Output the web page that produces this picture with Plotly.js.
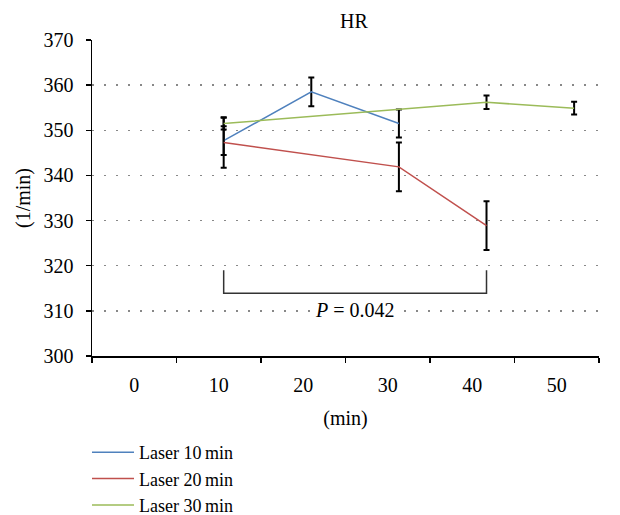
<!DOCTYPE html>
<html>
<head>
<meta charset="utf-8">
<script src="https://cdn.plot.ly/plotly-3.0.1.min.js"></script>
<style>html,body{margin:0;padding:0;background:#fff;}#chart{width:620px;height:515px;}</style>
</head>
<body>
<div id="chart"></div>
<script>
// Tick categories (min)
const xTickLabels = [0, 10, 20, 30, 40, 50];
const yTickValues = [300, 310, 320, 330, 340, 350, 360, 370];

// Series
const laser10X = [10, 20, 30];
const laser10Y = [347.7, 358.5, 351.5];
const laser10Err = [3.2, 3.2, 3.1];

const laser20X = [10, 30, 40];
const laser20Y = [347.3, 341.9, 328.9];
const laser20Err = [5.6, 5.4, 5.4];

const laser30X = [10, 40, 50];
const laser30Y = [351.5, 356.2, 354.9];
const laser30Err = [1.3, 1.5, 1.4];

// Significance bracket
const bracketX = [10, 10, 40, 40];
const bracketY = [319.0, 313.9, 313.9, 319.0];
const pText = "<i>P</i> = 0.042";
const pX = 25;
const pY = 310.2;

const FONT = "Liberation Serif, Times New Roman, serif";

function series(name, x, y, err, color) {
  return {
    type: "scatter", mode: "lines", name: name,
    x: x, y: y, xaxis: "x2", yaxis: "y",
    line: {color: color, width: 1.5},
    error_y: {type: "data", array: err, visible: true, color: "#000", thickness: 2, width: 3}
  };
}

const traces = [
  // empty trace so the labelled category axis gets drawn
  {type: "scatter", mode: "lines", x: [], y: [], xaxis: "x", yaxis: "y", showlegend: false, hoverinfo: "skip"},
  series("Laser 10\u2009min", laser10X, laser10Y, laser10Err, "#4f81bd"),
  series("Laser 20\u2009min", laser20X, laser20Y, laser20Err, "#c0504d"),
  series("Laser 30\u2009min", laser30X, laser30Y, laser30Err, "#9bbb59"),
  {
    type: "scatter", mode: "lines", x: bracketX, y: bracketY,
    xaxis: "x2", yaxis: "y", showlegend: false, hoverinfo: "skip",
    line: {color: "#333", width: 1.5}
  }
];

const layout = {
  width: 620, height: 515,
  margin: {l: 92, r: 21, t: 40, b: 159},
  paper_bgcolor: "#fff", plot_bgcolor: "#fff",
  font: {family: FONT, size: 20, color: "#000"},
  showlegend: true,
  title: {text: "HR", x: 354/620, xanchor: "center", xref: "container",
          y: 1 - 21/515, yanchor: "middle", yref: "container",
          font: {family: FONT, size: 20, color: "#000"}},
  xaxis: {
    type: "linear", range: [-5, 55],
    tickmode: "array", tickvals: xTickLabels, ticktext: xTickLabels.map(String),
    ticks: "", showgrid: false, zeroline: false,
    showline: true, linecolor: "#000", linewidth: 1.5,
    ticklabelstandoff: 10,
    minor: {tickmode: "linear", tick0: -5, dtick: 10, ticks: "outside", ticklen: 5, tickcolor: "#000", tickwidth: 1.5, showgrid: false},
    title: {text: "(min)", standoff: 16, font: {family: FONT, size: 20}},
    automargin: false,
    fixedrange: true
  },
  xaxis2: {
    type: "linear", range: [-5.03, 52.84], overlaying: "x", visible: false, fixedrange: true
  },
  yaxis: {
    range: [300, 370], tickmode: "array", tickvals: yTickValues,
    ticks: "outside", ticklen: 5, tickcolor: "#000", tickwidth: 1.5,
    showline: true, linecolor: "#000", linewidth: 1.5,
    showgrid: true, gridcolor: "#888", gridwidth: 1.5, griddash: "2px,10px",
    zeroline: false, ticklabelstandoff: 8,
    title: {text: "(1/min)", standoff: 7, font: {family: FONT, size: 20}},
    automargin: false,
    fixedrange: true
  },
  legend: {
    orientation: "v", x: -5/507, xanchor: "left", xref: "paper",
    y: 1 - 434/515, yanchor: "top", yref: "container",
    font: {family: FONT, size: 18, color: "#000"},
    bgcolor: "rgba(0,0,0,0)", tracegroupgap: 0, itemwidth: 42
  },
  annotations: [{
    x: pX, y: pY, xref: "x2", yref: "y", text: pText, showarrow: false,
    bgcolor: "#fff", font: {family: FONT, size: 20, color: "#000"},
    xanchor: "center", yanchor: "middle", borderpad: 0
  }]
};

Plotly.newPlot("chart", traces, layout, {staticPlot: true, displayModeBar: false});
</script>
</body>
</html>
